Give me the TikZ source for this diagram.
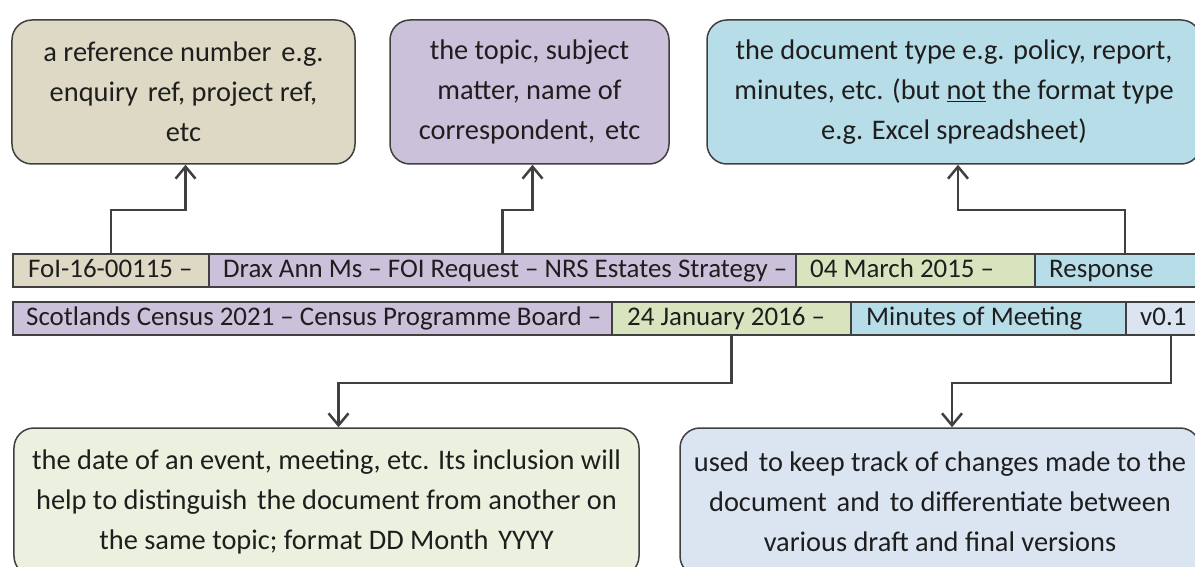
\documentclass[tikz,border=0pt]{standalone}
\usepackage{fontspec}
\setmainfont{Carlito}
\usetikzlibrary{arrows.meta}
\definecolor{ink}{HTML}{1E1E1E}
\definecolor{edge}{HTML}{404040}
\definecolor{tanfill}{HTML}{DDD9C4}
\definecolor{lavfill}{HTML}{CCC1DA}
\definecolor{bluefill}{HTML}{B7DDE8}
\definecolor{greenfill}{HTML}{D7E4BD}
\definecolor{palegreen}{HTML}{EBF1DE}
\definecolor{paleblue}{HTML}{DBE5F1}
% slightly wider word gap
\newcommand\wgap{\ \hspace{0.12em}}
\begin{document}
\begin{tikzpicture}[x=1bp,y=-1bp,
  every node/.style={font=\fontsize{27}{39}\selectfont, text=ink},
  note/.style={draw=edge, line width=1.5bp, rounded corners=20bp, align=center, inner sep=0pt,
               font=\fontsize{28.5}{40}\selectfont},
  cell/.style={draw=edge, line width=1.5bp, anchor=west, minimum height=33bp,
               minimum width=#1, inner sep=0pt},
  celltext/.style={anchor=base west, inner sep=0pt},
  link/.style={draw=edge, line width=2.5bp, -{Straight Barb[length=12bp,width=20bp]}}]
\useasboundingbox (0,0) rectangle (1195,567);
\clip (0,0) rectangle (1195,567);

% explanation boxes above
\node[note, fill=tanfill, minimum width=343bp, minimum height=144bp] (b1) at (183.5,92)
  {a reference number\wgap e.g.\\ enquiry\wgap ref, project ref,\\ etc};
\node[note, fill=lavfill, minimum width=279bp, minimum height=144bp] (b2) at (529.5,92)
  {the topic, subject\\ matter, name of\\ correspondent,\wgap etc};
\node[note, fill=bluefill, minimum width=494bp, minimum height=144bp] (b3) at (954,92)
  {the document type e.g. policy, report,\\ minutes, etc. (but \underline{not} the format type\\ e.g. Excel spreadsheet)};

% first example file name
\node[cell=196bp, fill=tanfill]   (r1a) at (12,270.5)   {};
\node[cell=587bp, fill=lavfill]   (r1b) at (208,270.5)  {};
\node[cell=239bp, fill=greenfill] (r1c) at (795,270.5)  {};
\node[cell=180bp, fill=bluefill]  (r1d) at (1034,270.5) {};
\node[celltext] (t1a) at (28,278)   {FoI-16-00115 –};
\node[celltext] (t1b) at (223,278)  {Drax Ann Ms – FOI Request – NRS Estates Strategy –};
\node[celltext] (t1c) at (810,278)  {04 March 2015 –};
\node[celltext] (t1d) at (1049,278) {Response};

% second example file name
\node[cell=599bp, fill=lavfill]   (r2a) at (12,318.5)   {};
\node[cell=239bp, fill=greenfill] (r2b) at (611,318.5)  {};
\node[cell=275bp, fill=bluefill]  (r2c) at (850,318.5)  {};
\node[cell=90bp,  fill=paleblue]  (r2d) at (1125,318.5) {};
\node[celltext] (t2a) at (26,326)   {Scotlands Census 2021 – Census Programme Board –};
\node[celltext] (t2b) at (627,326)  {24 January 2016 –};
\node[celltext] (t2c) at (866,326)  {Minutes of Meeting};
\node[celltext] (t2d) at (1140,326) {v0.1};

% explanation boxes below
\node[note, fill=palegreen, minimum width=625bp, minimum height=148bp] (b4) at (326.5,502)
  {the date of an event, meeting, etc. Its inclusion will\\ help to distinguish\wgap the document from another on\\ the same topic; format DD Month\wgap YYYY};
\node[note, fill=paleblue, minimum width=520bp, minimum height=148bp] (b5) at (940,502)
  {used\wgap to keep track of changes made to the\\ document\wgap and\wgap to differentiate between\\ various draft and final versions};

% connectors
\draw[link] (r1a.north) -- ++(0,-43) -| ([xshift=2bp]b1.south);
\draw[link] (r1b.north) -- ++(0,-43) -| ([xshift=3bp]b2.south);
\draw[link] (r1d.north) -- ++(0,-43) -| ([xshift=4bp]b3.south);
\draw[link] (r2b.south) -- ++(0,47) -| ([xshift=12bp]b4.north);
\draw[link] (r2d.south) -- ++(0,47) -| ([xshift=12bp]b5.north);
\end{tikzpicture}
\end{document}
